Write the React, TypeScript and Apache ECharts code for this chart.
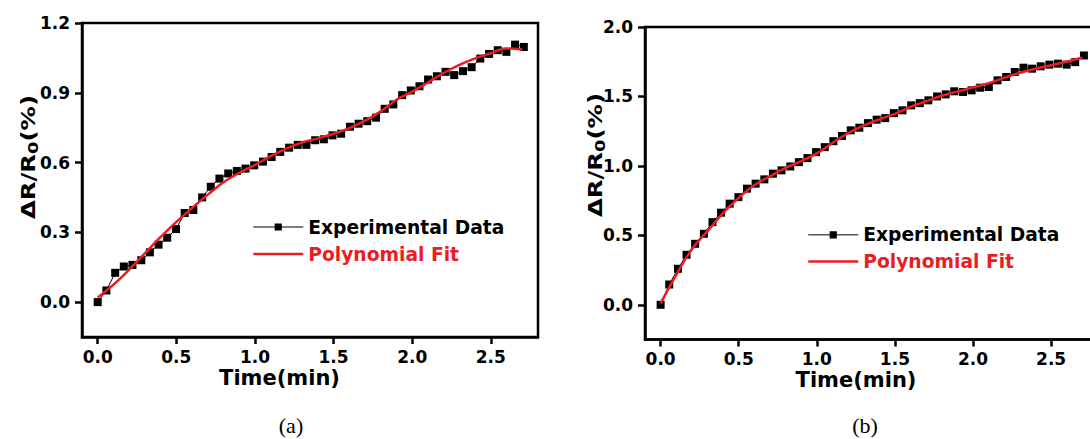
import React, { useEffect, useRef } from "react";
import * as echarts from "echarts";

// Sampling times (min), shared by both measurements
const times = [
  0, 0.055, 0.111, 0.166, 0.221, 0.277, 0.332, 0.387, 0.442, 0.498,
  0.553, 0.608, 0.664, 0.719, 0.774, 0.83, 0.885, 0.94, 0.995, 1.051,
  1.106, 1.161, 1.217, 1.272, 1.327, 1.383, 1.438, 1.493, 1.548, 1.604,
  1.659, 1.714, 1.77, 1.825, 1.88, 1.936, 1.991, 2.046, 2.101, 2.157,
  2.212, 2.267, 2.323, 2.378, 2.433, 2.489, 2.544, 2.599, 2.654, 2.71,
];

// (a) measured ΔR/R0 (%)
const dataA = [
  0.0, 0.05, 0.126, 0.153, 0.16, 0.18, 0.214, 0.247, 0.277, 0.314,
  0.383, 0.396, 0.45, 0.496, 0.531, 0.553, 0.564, 0.574, 0.588, 0.604,
  0.624, 0.646, 0.664, 0.676, 0.676, 0.696, 0.7, 0.717, 0.724, 0.754,
  0.767, 0.778, 0.793, 0.831, 0.85, 0.89, 0.91, 0.928, 0.957, 0.971,
  0.99, 0.976, 0.993, 1.01, 1.047, 1.067, 1.083, 1.076, 1.107, 1.097,
];

// (b) measured ΔR/R0 (%)
const dataB = [
  0.0, 0.146, 0.259, 0.36, 0.439, 0.511, 0.595, 0.663, 0.728, 0.775,
  0.836, 0.872, 0.903, 0.944, 0.968, 0.996, 1.027, 1.056, 1.099, 1.135,
  1.178, 1.215, 1.256, 1.275, 1.308, 1.333, 1.344, 1.38, 1.4, 1.436,
  1.452, 1.472, 1.5, 1.515, 1.537, 1.532, 1.544, 1.563, 1.568, 1.616,
  1.64, 1.676, 1.707, 1.7, 1.717, 1.729, 1.736, 1.729, 1.747, 1.795,
];

// Polynomial fit curves, evaluated every 0.1 min
const fitTimes = [
  0, 0.1, 0.2, 0.3, 0.4, 0.5, 0.6, 0.7, 0.8, 0.9, 1.0, 1.1, 1.2, 1.3,
  1.4, 1.5, 1.6, 1.7, 1.8, 1.9, 2.0, 2.1, 2.2, 2.3, 2.4, 2.5, 2.6, 2.7,
];
const fitA = [
  0.02, 0.075, 0.14, 0.21, 0.28, 0.345, 0.405, 0.462, 0.515, 0.555,
  0.59, 0.628, 0.66, 0.686, 0.704, 0.724, 0.748, 0.78, 0.82, 0.87,
  0.905, 0.944, 0.985, 1.02, 1.048, 1.07, 1.09, 1.086,
];
const fitB = [
  0.01, 0.215, 0.4, 0.53, 0.66, 0.77, 0.86, 0.925, 0.985, 1.035,
  1.09, 1.165, 1.235, 1.29, 1.335, 1.375, 1.425, 1.465, 1.505, 1.535,
  1.565, 1.595, 1.635, 1.67, 1.7, 1.725, 1.75, 1.78,
];

const xTicks = [0, 0.5, 1.0, 1.5, 2.0, 2.5];
const yTicksA = [0, 0.3, 0.6, 0.9, 1.2];
const yTicksB = [0, 0.5, 1.0, 1.5, 2.0];

const SANS = "'DejaVu Sans', sans-serif";
const SERIF = "'Liberation Serif', 'Times New Roman', serif";
const RED = "#ec1c24";
const BLACK = "#000";

const zip = (xs: number[], ys: number[]) => xs.map((x, i) => [x, ys[i]]);

function xAxis(gridIndex: number, shift: number) {
  return {
    type: "value",
    gridIndex,
    min: -0.1,
    max: 2.8,
    splitLine: { show: false },
    axisLine: { show: true, onZero: false, lineStyle: { color: BLACK, width: 2.5 } },
    axisTick: {
      show: true,
      inside: false,
      length: 7,
      customValues: xTicks,
      lineStyle: { color: BLACK, width: 2.5 },
    },
    axisLabel: {
      customValues: xTicks,
      formatter: (v: number) => v.toFixed(1),
      fontFamily: SANS,
      fontWeight: "bold",
      fontSize: 17,
      color: BLACK,
      margin: 11,
    },
    name: "Time(min)",
    nameLocation: "middle",
    nameGap: 30,
    nameMoveOverlap: false,
    nameTextStyle: {
      fontFamily: SANS,
      fontWeight: "bold",
      fontSize: 21,
      color: BLACK,
      padding: [0, shift, 0, 0],
    },
  };
}

function yAxis(gridIndex: number, min: number, max: number, ticks: number[]) {
  return {
    type: "value",
    gridIndex,
    min,
    max,
    splitLine: { show: false },
    axisLine: { show: true, onZero: false, lineStyle: { color: BLACK, width: 2.5 } },
    axisTick: {
      show: true,
      inside: false,
      length: 7,
      customValues: ticks,
      lineStyle: { color: BLACK, width: 2.5 },
    },
    axisLabel: {
      customValues: ticks,
      formatter: (v: number) => v.toFixed(1),
      fontFamily: SANS,
      fontWeight: "bold",
      fontSize: 17,
      color: BLACK,
      margin: 12,
    },
  };
}

function legend(left: number, top: number, lineHeight: number) {
  return {
    orient: "vertical",
    left,
    top,
    padding: 0,
    itemWidth: 50,
    itemHeight: 9,
    itemGap: 0,
    selectedMode: false,
    textStyle: {
      fontFamily: SANS,
      fontWeight: "bold",
      fontSize: 18.7,
      lineHeight,
      color: BLACK,
    },
    data: [
      { name: "Experimental Data", lineStyle: { width: 1, color: BLACK } },
      {
        name: "Polynomial Fit",
        itemStyle: { opacity: 0 },
        lineStyle: { width: 2.5, color: RED },
        textStyle: { color: RED },
      },
    ],
  };
}

function seriesFor(index: number, values: number[], fit: number[]) {
  return [
    {
      name: "Experimental Data",
      type: "line",
      xAxisIndex: index,
      yAxisIndex: index,
      data: zip(times, values),
      symbol: "rect",
      symbolSize: 8,
      showSymbol: true,
      lineStyle: { color: BLACK, width: 1 },
      itemStyle: { color: BLACK },
      z: 2,
    },
    {
      name: "Polynomial Fit",
      type: "line",
      xAxisIndex: index,
      yAxisIndex: index,
      data: zip(fitTimes, fit),
      symbol: "none",
      smooth: true,
      lineStyle: { color: RED, width: 2.5 },
      itemStyle: { color: RED },
      z: 3,
    },
  ];
}

function yTitle(x: number, y: number) {
  return {
    type: "text",
    x,
    y,
    rotation: Math.PI / 2,
    scaleX: 1.28,
    style: {
      text: "{a|ΔR/R}{s|0}{a|(%)}",
      align: "center",
      verticalAlign: "middle",
      fill: BLACK,
      rich: {
        a: { fontFamily: SANS, fontWeight: "bold", fontSize: 19, lineHeight: 24, fill: BLACK },
        s: {
          fontFamily: SANS,
          fontWeight: "bold",
          fontSize: 14,
          verticalAlign: "bottom",
          lineHeight: 24,
          padding: [8, 0, 0, 0],
          fill: BLACK,
        },
      },
    },
  };
}

function caption(x: number, y: number, text: string) {
  return {
    type: "text",
    x,
    y,
    style: {
      text,
      font: `22px ${SERIF}`,
      align: "center",
      verticalAlign: "middle",
      fill: BLACK,
    },
  };
}

export default function App() {
  const ref = useRef<HTMLDivElement>(null);

  useEffect(() => {
    if (!ref.current) return;
    const chart = echarts.init(ref.current, null, { renderer: "svg" });
    const gridBase = {
      show: true,
      borderColor: BLACK,
      borderWidth: 2.5,
      containLabel: false,
      outerBoundsMode: "none",
    };
    chart.setOption({
      animation: false,
      backgroundColor: "#fff",
      grid: [
        { ...gridBase, left: 82, top: 23, width: 456, height: 314 },
        { ...gridBase, left: 645, top: 27, width: 453, height: 312.5 },
      ],
      xAxis: [xAxis(0, 61), xAxis(1, 31)],
      yAxis: [yAxis(0, -0.15, 1.2, yTicksA), yAxis(1, -0.25, 2.0, yTicksB)],
      legend: [legend(252, 213.5, 27), legend(807, 221.5, 26.7)],
      series: [...seriesFor(0, dataA, fitA), ...seriesFor(1, dataB, fitB)],
      graphic: [
        yTitle(28, 157),
        yTitle(595, 155),
        caption(291, 425, "(a)"),
        caption(865, 425, "(b)"),
      ],
    });
    return () => chart.dispose();
  }, []);

  return (
    <div
      ref={ref}
      style={{ position: "absolute", left: 0, top: 0, width: 1090, height: 439 }}
    />
  );
}
